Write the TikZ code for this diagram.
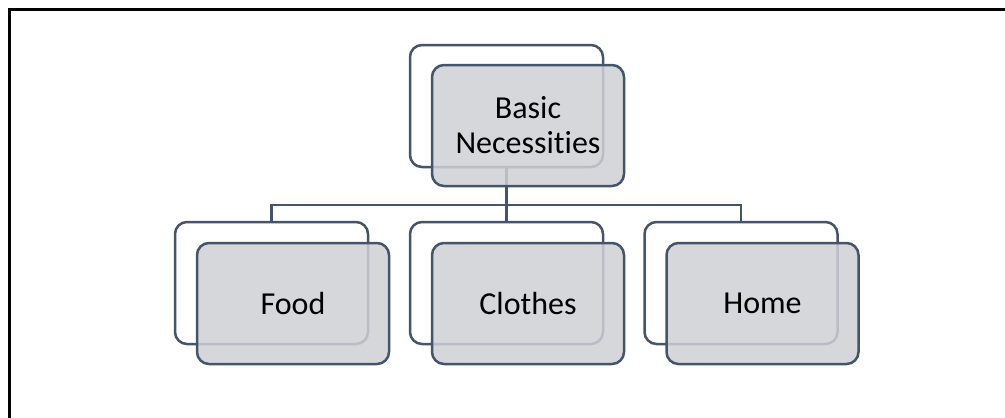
\documentclass[tikz,border=0pt]{standalone}
\usepackage{fontspec}
\setmainfont[Ligatures=NoCommon]{Carlito}
\usetikzlibrary{positioning}

\definecolor{slate}{HTML}{44546A}
\definecolor{boxgray}{HTML}{CFD0D5}

\tikzset{
	backbox/.style={draw=slate, line width=2.5pt, fill=white, rounded corners=12pt,
		minimum width=193pt, minimum height=122pt, inner sep=0pt},
	frontbox/.style={draw=slate, line width=2.5pt, fill=boxgray, fill opacity=0.85,
		text opacity=1, rounded corners=12pt, minimum width=192pt, minimum height=121pt,
		inner sep=0pt, align=center, font=\fontsize{32}{35}\selectfont},
	link/.style={draw=slate, line width=2.5pt}
}

\begin{document}
\begin{tikzpicture}[x=1pt, y=-1pt]
	\useasboundingbox (0,0) rectangle (1005,418);
	\draw[line width=3pt] (9.5,418) -- (9.5,9.5) -- (1005,9.5);
	\coordinate (bus) at (507,205);
	\node[backbox] (basicback) at (506.5,106) {};
	\node[backbox] (foodback) at (271.5,283) {};
	\node[backbox] (clothesback) at (506.5,283) {};
	\node[backbox] (homeback) at (741,283) {};
	\draw[link] (basicback.south) -- (basicback.south |- bus);
	\draw[link] (foodback.north) -- (foodback.north |- bus) -- (homeback.north |- bus) -- (homeback.north);
	\draw[link] (clothesback.north) -- (clothesback.north |- bus);
	\node[frontbox, anchor=north west] (basic) at ([xshift=22pt,yshift=-20pt]basicback.north west) {Basic\\Necessit\kern0pt ies};
	\node[frontbox, anchor=north west] (food) at ([xshift=22pt,yshift=-21pt]foodback.north west) {Food};
	\node[frontbox, anchor=north west] (clothes) at ([xshift=22pt,yshift=-21pt]clothesback.north west) {Clothes};
	\node[frontbox, anchor=north west] (home) at ([xshift=22pt,yshift=-21pt]homeback.north west) {Home};
\end{tikzpicture}
\end{document}
